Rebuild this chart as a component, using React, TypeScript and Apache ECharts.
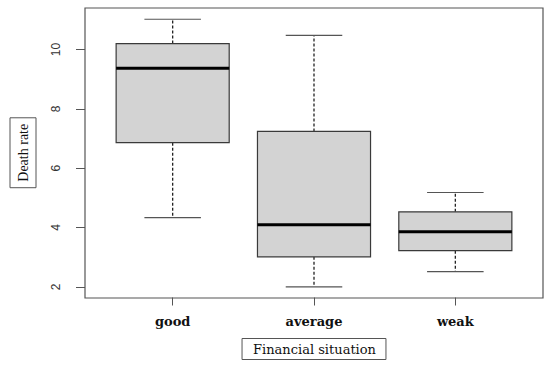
import React, { useEffect, useRef } from "react";
import * as echarts from "echarts";

const categories = ["good", "average", "weak"];
const whiskerLow = [4.33, 2.0, 2.51];
const q1Values = [6.86, 3.01, 3.22];
const medians = [9.37, 4.09, 3.86];
const q3Values = [10.2, 7.24, 4.53];
const whiskerHigh = [11.02, 10.48, 5.18];
const yTicks = [2, 4, 6, 8, 10];
const yTitle = "Death rate";
const xTitle = "Financial situation";

export default function App() {
  const ref = useRef<HTMLDivElement>(null);
  useEffect(() => {
    if (!ref.current) return;
    const chart = echarts.init(ref.current, null, { renderer: "svg" });
    const data = categories.map((_, i) => [
      i,
      whiskerLow[i],
      q1Values[i],
      medians[i],
      q3Values[i],
      whiskerHigh[i],
    ]);
    const stroke = "#3a3a3a";
    chart.setOption({
      animation: false,
      backgroundColor: "#fff",
      grid: { left: 102, right: 24, top: 8, bottom: 67 },
      graphic: [
        {
          type: "rect",
          shape: { x: 85, y: 8, width: 458, height: 290 },
          style: { fill: "none", stroke: "#555", lineWidth: 1.2 },
          silent: true,
        },
      ],
      xAxis: {
        type: "category",
        data: categories,
        axisLine: { show: false },
        axisTick: {
          show: true,
          alignWithLabel: true,
          length: 8,
          lineStyle: { color: "#555" },
        },
        axisLabel: {
          margin: 17,
          fontFamily: "DejaVu Serif",
          fontWeight: "bold",
          fontSize: 13,
          color: "#111",
        },
        name: xTitle,
        nameLocation: "middle",
        nameGap: 41,
        nameTextStyle: {
          fontFamily: "DejaVu Serif",
          fontSize: 13,
          color: "#111",
          borderColor: "#555",
          borderWidth: 1,
          padding: [4, 10, 4, 11],
          verticalAlign: "top",
        },
      },
      yAxis: {
        type: "value",
        min: 1.64,
        max: 11.4,
        offset: 17,
        axisLine: { show: false },
        splitLine: { show: false },
        axisTick: {
          show: true,
          length: 9,
          customValues: yTicks,
          lineStyle: { color: "#555" },
        },
        axisLabel: {
          customValues: yTicks,
          rotate: 90,
          margin: 23,
          fontFamily: "Liberation Sans",
          fontSize: 12,
          color: "#333",
        },
        name: yTitle,
        nameLocation: "middle",
        nameRotate: 90,
        nameGap: 49,
        nameTextStyle: {
          fontFamily: "Liberation Serif",
          fontSize: 14,
          color: "#111",
          borderColor: "#555",
          borderWidth: 1,
          padding: [6, 6, 6, 6],
        },
      },
      series: [
        {
          type: "custom",
          data,
          encode: { x: 0, y: [1, 2, 3, 4, 5] },
          renderItem: (params: any, api: any) => {
            const idx = api.value(0);
            const band = api.size([1, 0])[0];
            const pLow = api.coord([idx, api.value(1)]);
            const pQ1 = api.coord([idx, api.value(2)]);
            const pMed = api.coord([idx, api.value(3)]);
            const pQ3 = api.coord([idx, api.value(4)]);
            const pHigh = api.coord([idx, api.value(5)]);
            const cx = pMed[0];
            const bw = band * 0.8;
            const cw = band * 0.4;
            return {
              type: "group",
              children: [
                {
                  type: "line",
                  shape: { x1: cx, y1: pQ3[1], x2: cx, y2: pHigh[1] },
                  style: { stroke: "#222", lineWidth: 1.3, lineDash: [3, 2] },
                },
                {
                  type: "line",
                  shape: { x1: cx, y1: pQ1[1], x2: cx, y2: pLow[1] },
                  style: { stroke: "#222", lineWidth: 1.3, lineDash: [3, 2] },
                },
                {
                  type: "line",
                  shape: { x1: cx - cw / 2, y1: pHigh[1], x2: cx + cw / 2, y2: pHigh[1] },
                  style: { stroke: "#555", lineWidth: 1.2 },
                },
                {
                  type: "line",
                  shape: { x1: cx - cw / 2, y1: pLow[1], x2: cx + cw / 2, y2: pLow[1] },
                  style: { stroke: "#555", lineWidth: 1.2 },
                },
                {
                  type: "rect",
                  shape: { x: cx - bw / 2, y: pQ3[1], width: bw, height: pQ1[1] - pQ3[1] },
                  style: { fill: "#d3d3d3", stroke, lineWidth: 1.2 },
                },
                {
                  type: "line",
                  shape: { x1: cx - bw / 2, y1: pMed[1], x2: cx + bw / 2, y2: pMed[1] },
                  style: { stroke: "#000", lineWidth: 3 },
                },
              ],
            };
          },
        },
      ],
    });
    return () => chart.dispose();
  }, []);
  return (
    <div
      ref={ref}
      style={{ position: "fixed", left: 0, top: 0, width: 550, height: 365 }}
    />
  );
}
